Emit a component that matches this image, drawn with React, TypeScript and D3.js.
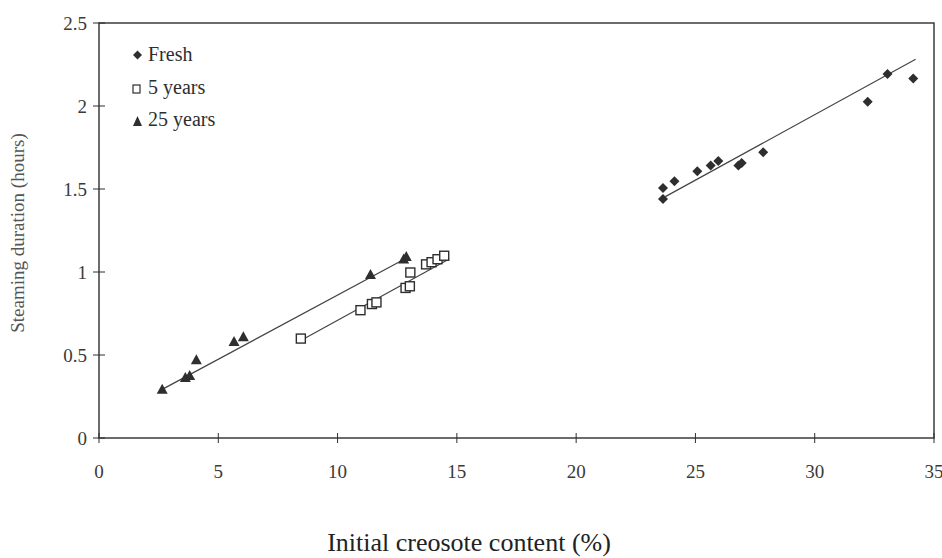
import React from "react";
import * as d3 from "d3";

// ---- data ----
const freshX = [23.64, 23.64, 24.12, 25.08, 25.64, 25.96, 26.8, 26.94, 27.84, 32.22, 33.05, 34.13];
const freshY = [1.506, 1.44, 1.547, 1.607, 1.642, 1.669, 1.642, 1.656, 1.722, 2.025, 2.193, 2.165];

const fiveX = [8.46, 10.96, 11.44, 11.63, 12.85, 13.03, 13.05, 13.71, 13.94, 14.19, 14.47];
const fiveY = [0.599, 0.77, 0.807, 0.817, 0.904, 0.914, 0.997, 1.046, 1.059, 1.077, 1.098];

const twentyFiveX = [2.65, 3.62, 3.8, 4.08, 5.66, 6.05, 11.38, 12.77, 12.88];
const twentyFiveY = [0.297, 0.368, 0.38, 0.474, 0.584, 0.613, 0.988, 1.081, 1.096];

// fitted trend lines: [x, y] endpoints
const fitFresh: [number, number][] = [[23.74, 1.454], [34.23, 2.282]];
const fitFive: [number, number][] = [[8.46, 0.587], [14.68, 1.078]];
const fitTwentyFive: [number, number][] = [[2.65, 0.293], [12.93, 1.087]];

const xTicks = [0, 5, 10, 15, 20, 25, 30, 35];
const yTicks = [0, 0.5, 1, 1.5, 2, 2.5];
const legendLabels = ["Fresh", "5 years", "25 years"];

const xTitle = "Initial creosote content (%)";
const yTitle = "Steaming duration (hours)";

const W = 942;
const H = 558;
const INK = "#2e2e2e";
const FONT = "'Liberation Serif', 'Times New Roman', serif";

const x = d3.scaleLinear().domain([0, 35]).range([99, 934]);
const y = d3.scaleLinear().domain([0, 2.5]).range([438, 23]);

const line = d3
  .line<[number, number]>()
  .x((d) => x(d[0]))
  .y((d) => y(d[1]));

const diamond = (cx: number, cy: number, r: number) =>
  `M${cx},${cy - r}L${cx + r},${cy}L${cx},${cy + r}L${cx - r},${cy}Z`;
const triangle = (cx: number, cy: number, w: number, h: number) =>
  `M${cx},${cy - h / 2}L${cx + w / 2},${cy + h / 2}L${cx - w / 2},${cy + h / 2}Z`;

export default function App() {
  const [x0, x1] = x.range();
  const [y0, y1] = y.range();
  return (
    <svg
      width={W}
      height={H}
      viewBox={`0 0 ${W} ${H}`}
      style={{ position: "absolute", left: 0, top: 0, background: "#fff" }}
      fontFamily={FONT}
    >
      <rect x={0} y={0} width={W} height={H} fill="#fff" />
      {/* frame */}
      <rect x={x0} y={y1} width={x1 - x0} height={y0 - y1} fill="none" stroke={INK} strokeWidth={1.4} />

      {/* x ticks */}
      {xTicks.map((t) => (
        <g key={"xt" + t}>
          <line x1={x(t)} x2={x(t)} y1={y0 - 5} y2={y0 + 5} stroke={INK} strokeWidth={1} />
          <text x={x(t)} y={478} textAnchor="middle" fontSize={19} fill="#3a3a3a">
            {t}
          </text>
        </g>
      ))}

      {/* y ticks */}
      {yTicks.map((t) => (
        <g key={"yt" + t}>
          <line x1={x0 - 6} x2={x0 + 6} y1={y(t)} y2={y(t)} stroke={INK} strokeWidth={1} />
          <text x={87} y={y(t) + 6.5} textAnchor="end" fontSize={19} fill="#3a3a3a">
            {t}
          </text>
        </g>
      ))}

      {/* fit lines */}
      <path d={line(fitTwentyFive) || ""} fill="none" stroke="#444" strokeWidth={1.2} />
      <path d={line(fitFive) || ""} fill="none" stroke="#444" strokeWidth={1.2} />
      <path d={line(fitFresh) || ""} fill="none" stroke="#444" strokeWidth={1.2} />

      {/* 25 years: triangles */}
      {twentyFiveX.map((vx, i) => (
        <path key={"t" + i} d={triangle(x(vx), y(twentyFiveY[i]), 11, 10)} fill={INK} />
      ))}

      {/* 5 years: open squares */}
      {fiveX.map((vx, i) => (
        <rect
          key={"s" + i}
          x={x(vx) - 4.5}
          y={y(fiveY[i]) - 4.5}
          width={9}
          height={9}
          fill="#fff"
          stroke={INK}
          strokeWidth={1.4}
        />
      ))}

      {/* fresh: diamonds */}
      {freshX.map((vx, i) => (
        <path key={"d" + i} d={diamond(x(vx), y(freshY[i]), 5)} fill={INK} />
      ))}

      {/* legend */}
      <path d={diamond(137.5, 55, 4.5)} fill={INK} />
      <text x={148} y={61} fontSize={20} fill={INK}>
        {legendLabels[0]}
      </text>
      <rect x={133} y={85} width={7} height={8} fill="#fff" stroke={INK} strokeWidth={1.2} />
      <text x={148} y={94} fontSize={20} fill={INK}>
        {legendLabels[1]}
      </text>
      <path d={triangle(137.5, 121, 9, 10)} fill={INK} />
      <text x={148} y={126} fontSize={20} fill={INK}>
        {legendLabels[2]}
      </text>

      {/* axis titles */}
      <text
        transform={`translate(24,233) rotate(-90)`}
        textAnchor="middle"
        fontSize={19}
        fill="#555555"
      >
        {yTitle}
      </text>
      <text x={469} y={551} textAnchor="middle" fontSize={26} fill="#222">
        {xTitle}
      </text>
    </svg>
  );
}
